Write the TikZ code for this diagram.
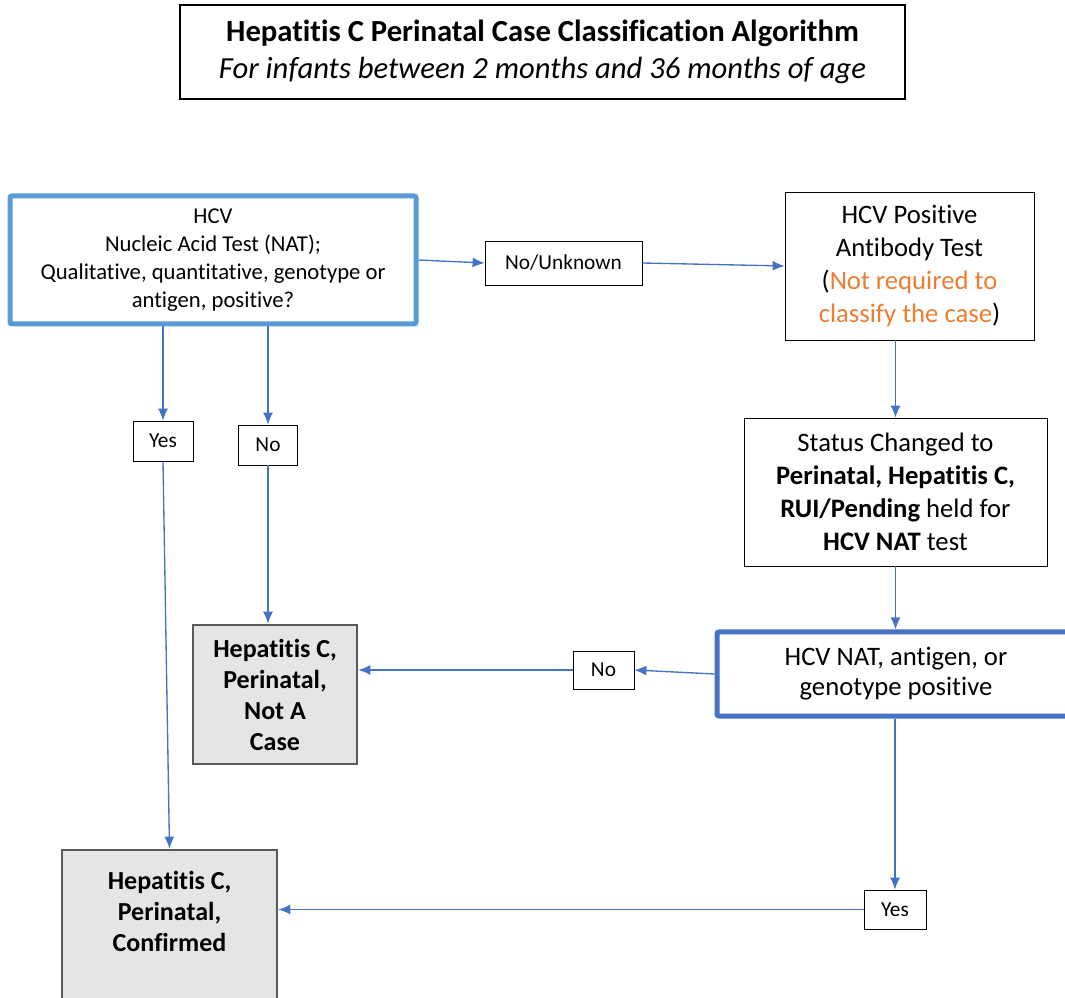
\documentclass[tikz,border=0pt]{standalone}
\usepackage{fontspec}
\setmainfont{Carlito}[Ligatures=CommonOff]
\usepackage{tikz}
\usetikzlibrary{
  positioning,
  arrows.meta
}
\definecolor{natblue}{RGB}{91,155,213}
\definecolor{flowblue}{RGB}{68,114,196}
\definecolor{noteorange}{RGB}{237,125,49}
\tikzset{>={Latex[length=9pt,width=7.5pt]}}
\tikzset{
  titlebox/.style={draw=black, line width=1.9pt, align=center, minimum width=543.75pt,
    minimum height=70.5pt, font=\fontsize{23}{27.75}\selectfont},
  testbox/.style={draw=natblue, line width=3.75pt, rounded corners=1.5pt, fill=white, align=center},
  plainbox/.style={draw=black, line width=0.6pt, fill=white, align=center,
    font=\fontsize{20}{24.75}\selectfont},
  answer/.style={draw=black, line width=0.6pt, fill=white, align=center, inner sep=0pt,
    font=\fontsize{16}{19}\selectfont},
  casebox/.style={draw=black!65, line width=2pt, fill=black!10, align=center,
    font=\bfseries\fontsize{19.5}{23.25}\selectfont},
  flow/.style={->, draw=flowblue, fill=flowblue, line width=1pt},
}

\begin{document}
\begin{tikzpicture}[x=0.75pt, y=-0.75pt]
  \useasboundingbox (0,0) rectangle (1065,998);
  \node[titlebox] (title) at (542.5,52)
    {\textbf{Hepatitis C Perinatal Case Classification Algorithm}\\
     \textit{For infants between 2 months and 36 months of age}};

  % first test
  \node[testbox, minimum width=304.5pt, minimum height=96pt,
    font=\fontsize{17}{20.8}\selectfont] (nat) at (213,260)
    {HCV\\ Nucleic Acid Test (NAT);\\ Qualitative, quantitative, genotype or\\ antigen, positive?};
  \node[answer, minimum width=117.75pt, minimum height=33pt] (unknown) at (563.5,263) {No/Unknown};
  \node[plainbox, minimum width=186.75pt, minimum height=111pt] (antibody) at (909.5,266)
    {HCV Positive\\ Antibody Test\\ (\textcolor{noteorange}{Not required to}\\
     \textcolor{noteorange}{classify the case})};
  \node[plainbox, minimum width=227.25pt, minimum height=111pt] (status) at (895.5,492)
    {Status Changed to\\ \textbf{Perinatal, Hepatitis C,}\\ \textbf{RUI/Pending} held for\\
     \textbf{HCV NAT} test};
  \node[testbox, draw=flowblue, minimum width=268.5pt, minimum height=63pt,
    font=\fontsize{20}{22.5}\selectfont] (nattwo) at (896,674)
    {HCV NAT, antigen, or\\ genotype positive};

  % answers
  \node[answer, minimum width=45pt, minimum height=30pt] (yesleft) at (163,441) {Yes};
  \node[answer, minimum width=44.25pt, minimum height=30pt] (noleft) at (268,445) {No};
  \node[answer, minimum width=45.75pt, minimum height=28.5pt] (nomid) at (603.5,670) {No};
  \node[answer, minimum width=46.5pt, minimum height=29.25pt] (yesright) at (895,909.5) {Yes};

  % outcomes
  \node[casebox, minimum width=123pt, minimum height=104.25pt] (notcase) at (275,694.5)
    {Hepatitis C,\\ Perinatal,\\ Not A\\ Case};
  \node[casebox, minimum width=161.25pt, minimum height=120pt] (confirmed) at (169.5,930) {};
  \node[align=center, font=\bfseries\fontsize{19.5}{23.25}\selectfont] (confirmedtext) at (169.5,911)
    {Hepatitis C,\\ Perinatal,\\ Confirmed};

  \draw[flow] (nat.east) -- (unknown.west);
  \draw[flow] (unknown.east) -- (antibody.west);
  \draw[flow] (nat.south -| yesleft.north) -- (yesleft.north);
  \draw[flow] (yesleft.south) -- (confirmed.north);
  \draw[flow] (nat.south -| noleft.north) -- (noleft.north);
  \draw[flow] (noleft.south) -- (noleft.south |- notcase.north);
  \draw[flow] (antibody.south -| status.north) -- (status.north);
  \draw[flow] (status.south) -- (status.south |- nattwo.north);
  \draw[flow] (nattwo.west) -- (nomid.east);
  \draw[flow] (nomid.west) -- (nomid.west -| notcase.east);
  \draw[flow] (nattwo.south -| yesright.north) -- (yesright.north);
  \draw[flow] (yesright.west) -- (yesright.west -| confirmed.east);
\end{tikzpicture}
\end{document}
